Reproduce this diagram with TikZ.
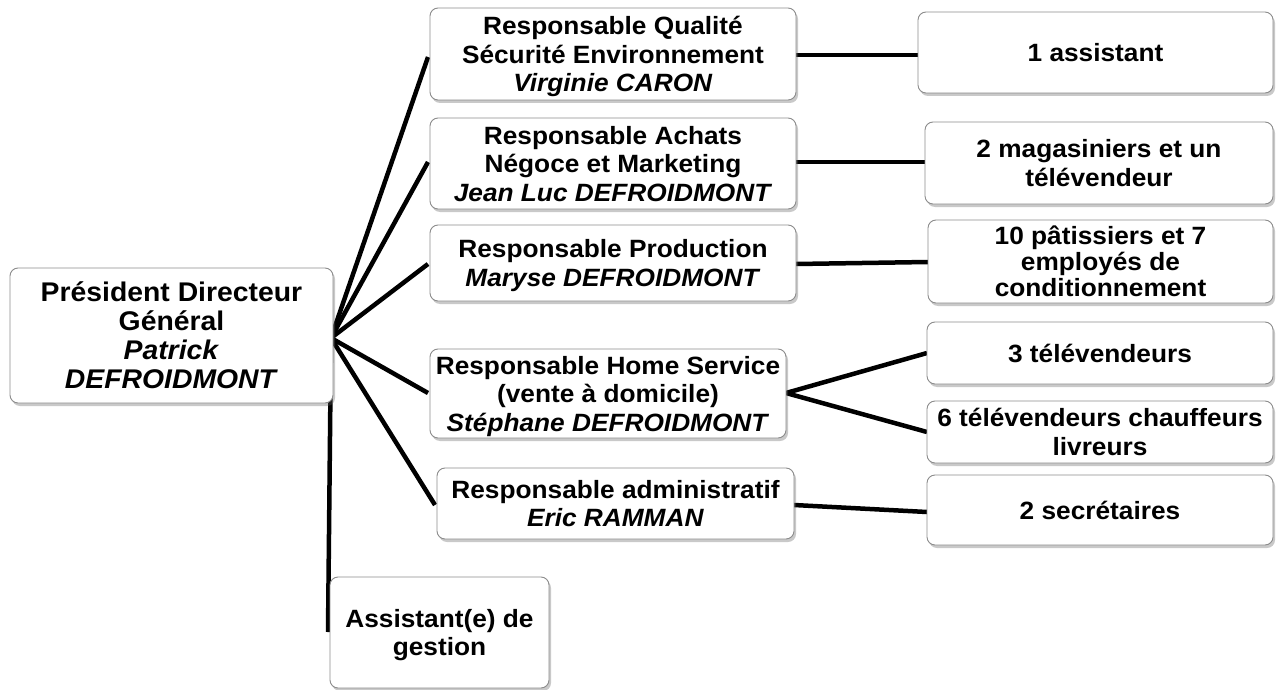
\documentclass[tikz,border=0pt]{standalone}
\usepackage{fontspec}
\setmainfont{Liberation Sans}[FakeStretch=1.05]
\usetikzlibrary{shadows}
\begin{document}
\begin{tikzpicture}[x=1pt,y=-1pt,
 box/.style={draw=black!45, line width=0.9pt, rounded corners=8pt, fill=white, align=center, inner sep=0pt,
   text depth=0pt,
   font=\fontsize{25}{28.5}\selectfont\bfseries,
   drop shadow={shadow xshift=2pt, shadow yshift=-3pt, opacity=0.35, fill=black!60}},
 link/.style={line width=4.5pt, black}]
\useasboundingbox[fill=white] (0,0) rectangle (1277,690);
\coordinate (hub) at (331,338);
\draw[link] (hub) -- (428,57);
\draw[link] (hub) -- (428,162);
\draw[link] (hub) -- (428,264);
\draw[link] (hub) -- (428,393);
\draw[link] (hub) -- (435,505);
\draw[link] (hub) -- (328,632);
\draw[link] (796,55) -- (918,55);
\draw[link] (796,162) -- (925,162);
\draw[link] (796,264) -- (928,262);
\draw[link] (786,393) -- (927,353);
\draw[link] (786,393) -- (927,432);
\draw[link] (794,505) -- (927,512);
\node[box, minimum width=323pt, minimum height=135pt, font=\fontsize{27}{29}\selectfont\bfseries] (pdg) at (171.5,335.5)
  {Président Directeur\\Général\\\textit{Patrick}\\\textit{DEFROIDMONT}};
\node[box, minimum width=366pt, minimum height=92pt] (q) at (613,54)
  {Responsable Qualité\\Sécurité Environnement\\\textit{Virginie CARON}};
\node[box, minimum width=366pt, minimum height=91pt] (ach) at (613,163.5)
  {Responsable Achats\\Négoce et Marketing\\\textit{Jean Luc DEFROIDMONT}};
\node[box, minimum width=366pt, minimum height=76pt] (prod) at (613,263)
  {Responsable Production\\\textit{Maryse DEFROIDMONT}};
\node[box, minimum width=356pt, minimum height=89pt] (home) at (608,393.5)
  {Responsable Home Service\\(vente à domicile)\\\textit{Stéphane DEFROIDMONT}};
\node[box, minimum width=357pt, minimum height=71pt] (adm) at (615.5,503.5)
  {Responsable administratif\\\textit{Eric RAMMAN}};
\node[box, minimum width=219pt, minimum height=111pt] (asg) at (439.5,632.5)
  {Assistant(e) de\\gestion};
\node[box, minimum width=355pt, minimum height=81pt] (r1) at (1095.5,52.5) {1 assistant};
\node[box, minimum width=348pt, minimum height=82pt] (r2) at (1099,163) {2 magasiniers et un\\télévendeur};
\node[box, minimum width=345pt, minimum height=83pt, font=\fontsize{25}{26}\selectfont\bfseries] (r3) at (1100.5,261.5) {10 pâtissiers et 7\\employés de\\conditionnement};
\node[box, minimum width=346pt, minimum height=62pt] (r4) at (1100,353) {3 télévendeurs};
\node[box, minimum width=346pt, minimum height=62pt] (r5) at (1100,432) {6 télévendeurs chauffeurs\\livreurs};
\node[box, minimum width=346pt, minimum height=70pt] (r6) at (1100,510) {2 secrétaires};
\end{tikzpicture}
\end{document}
